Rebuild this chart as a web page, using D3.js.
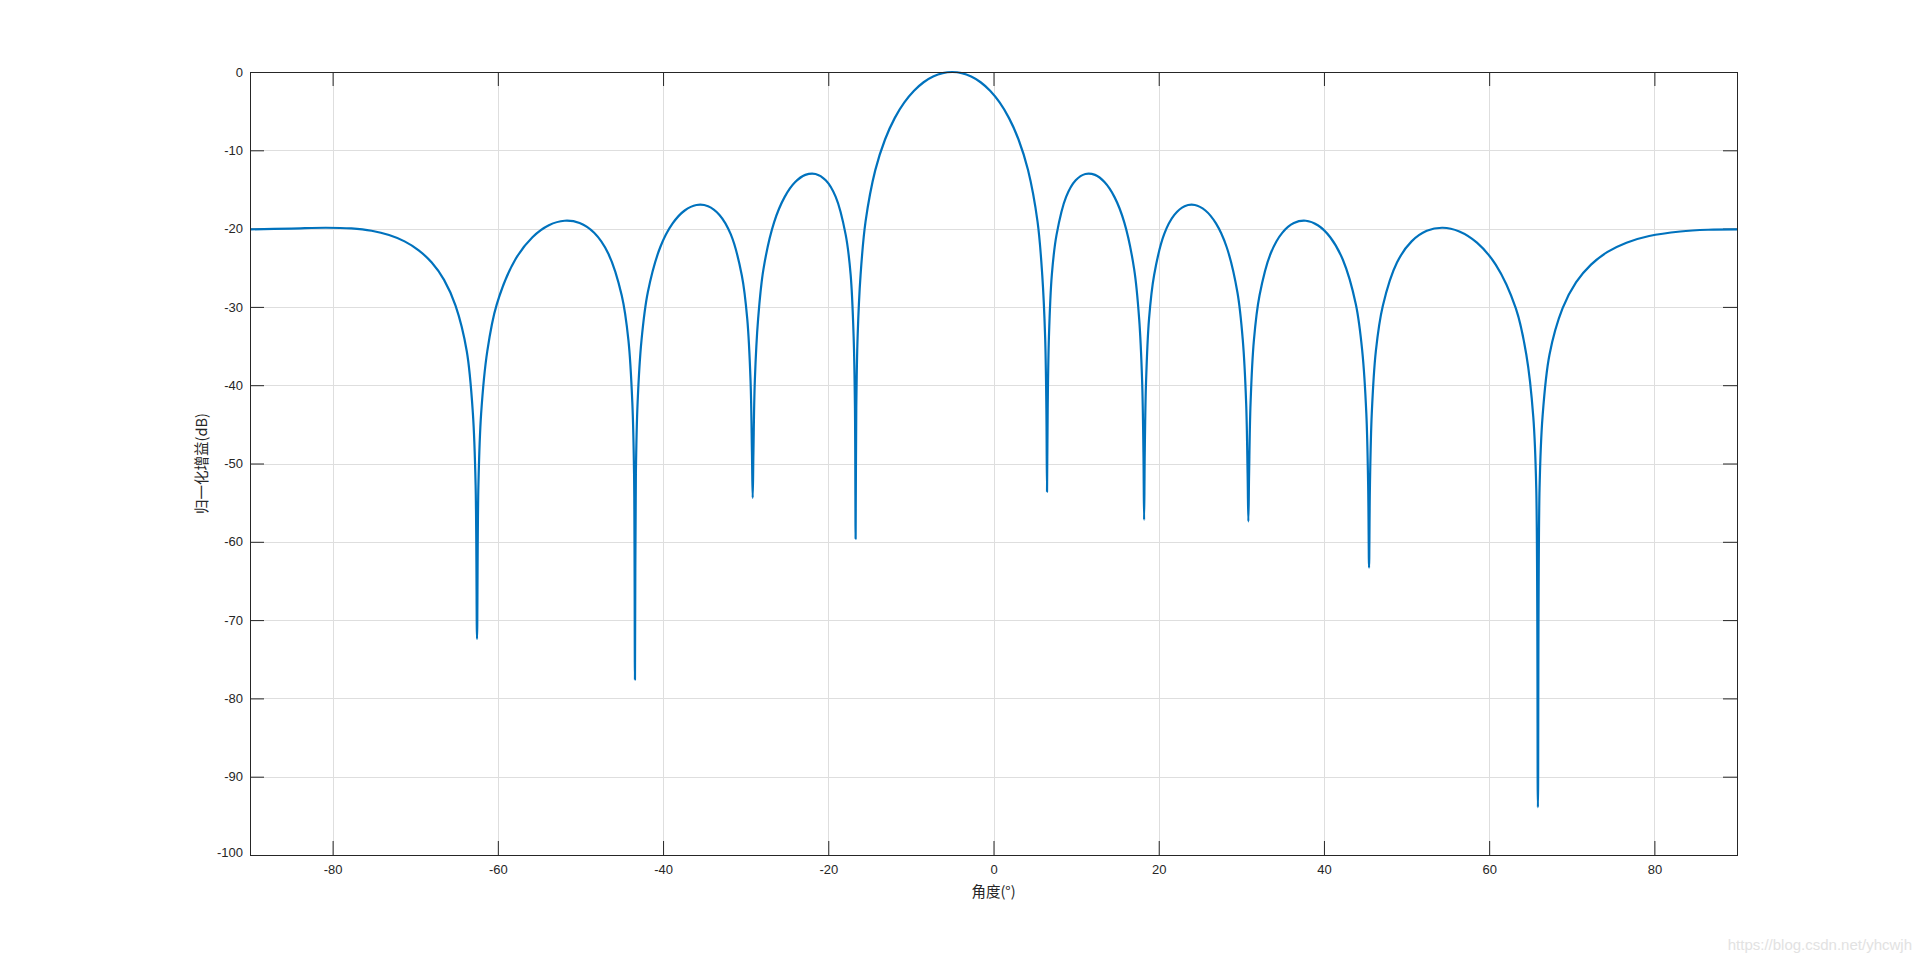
<!DOCTYPE html>
<html>
<head>
<meta charset="utf-8">
<script src="https://cdn.jsdelivr.net/npm/d3@7"></script>
<style>
  html, body { margin: 0; padding: 0; background: #fff; }
  svg { display: block; }
</style>
</head>
<body>
<svg id="chart" width="1920" height="962"></svg>
<script>
// ---- data ----
const angles = [
  -90.00, -85.00, -80.81, -77.73, -75.28, -73.17, -71.29, -69.58, -68.00, -66.51, -65.12,
  -63.76, -63.02, -62.69, -62.52, -62.35, -62.02, -61.28,
  -60.13, -57.90, -55.81, -53.82, -51.92, -50.10, -48.34, -46.65, -45.00,
  -44.19, -43.72, -43.51, -43.40, -43.29, -43.08, -42.61,
  -41.85, -40.33, -38.84, -37.38, -35.96, -34.55, -33.17, -31.81, -30.47,
  -29.81, -29.41, -29.24, -29.15, -29.06, -28.89, -28.49,
  -27.85, -26.56, -25.29, -24.03, -22.78, -21.54, -20.31, -19.10, -17.89,
  -17.29, -16.93, -16.77, -16.69, -16.61, -16.45, -16.09,
  -15.49, -14.31, -13.13, -11.96, -10.79, -9.62, -8.46, -7.31, -6.15, -5.00,
  -3.85, -2.70, -1.56, -0.41, 0.74, 1.88, 3.03, 4.18, 5.33,
  5.90, 6.25, 6.40, 6.48, 6.56, 6.71, 7.06,
  7.63, 8.79, 9.95, 11.12, 12.29, 13.46, 14.65, 15.83, 17.03,
  17.63, 17.99, 18.15, 18.23, 18.31, 18.47, 18.83,
  19.44, 20.66, 21.89, 23.13, 24.38, 25.65, 26.93, 28.22, 29.53,
  30.18, 30.58, 30.76, 30.85, 30.94, 31.12, 31.52,
  32.20, 33.56, 34.95, 36.36, 37.80, 39.26, 40.76, 42.29, 43.86,
  44.64, 45.13, 45.35, 45.46, 45.57, 45.79, 46.28,
  47.13, 48.84, 50.61, 52.45, 54.37, 56.39, 58.52, 60.79, 63.23,
  64.50, 65.34, 65.70, 65.90, 66.10, 66.46, 67.30,
  68.88, 70.53, 72.33, 74.33, 76.62, 79.37, 83.14, 86.50, 90.00
];
const gainDb = [
  -20.10, -20.00, -19.89, -19.98, -20.28, -20.82, -21.63, -22.77, -24.34, -26.55, -29.85,
  -35.67, -43.60, -52.72, -72.40, -52.72, -43.60, -35.67,
  -29.67, -23.98, -21.10, -19.57, -19.00, -19.29, -20.54, -23.15, -28.55,
  -34.27, -42.20, -51.32, -77.60, -51.32, -42.20, -34.27,
  -28.16, -22.35, -19.34, -17.69, -16.99, -17.14, -18.25, -20.71, -25.95,
  -31.50, -39.43, -48.55, -54.40, -48.55, -39.43, -31.50,
  -25.20, -19.20, -15.98, -14.09, -13.14, -13.02, -13.82, -15.94, -20.80,
  -25.91, -33.84, -42.96, -59.60, -42.96, -33.84, -25.91,
  -19.12, -12.53, -8.62, -5.89, -3.89, -2.40, -1.31, -0.58, -0.14, 0.00,
  -0.14, -0.58, -1.31, -2.40, -3.89, -5.89, -8.62, -12.53, -19.12,
  -25.91, -33.84, -42.96, -53.60, -42.96, -33.84, -25.91,
  -20.80, -15.94, -13.82, -13.02, -13.14, -14.09, -15.98, -19.20, -25.20,
  -31.50, -39.43, -48.55, -57.20, -48.55, -39.43, -31.50,
  -25.95, -20.71, -18.25, -17.14, -16.99, -17.69, -19.34, -22.35, -28.16,
  -34.27, -42.20, -51.32, -57.40, -51.32, -42.20, -34.27,
  -28.55, -23.15, -20.54, -19.29, -19.00, -19.57, -21.10, -23.98, -29.67,
  -35.67, -43.60, -52.72, -63.30, -52.72, -43.60, -35.67,
  -29.85, -24.34, -21.63, -20.28, -19.89, -20.37, -21.80, -24.60, -30.20,
  -36.11, -44.04, -53.16, -93.90, -53.16, -44.04, -36.11,
  -30.20, -26.85, -24.60, -22.98, -21.80, -20.95, -20.37, -20.15, -20.10
];
const xTicks = [-80, -60, -40, -20, 0, 20, 40, 60, 80];
const yTicks = [0, -10, -20, -30, -40, -50, -60, -70, -80, -90, -100];
const xDomain = [-90, 90];
const yDomain = [-100, 0];
const xLabel = "角度(°)";
const yLabel = "归一化增益(dB)";
const watermark = "https://blog.csdn.net/yhcwjh";

// ---- layout ----
const svg = d3.select("#chart");
const L = 250, T = 72, W = 1487, H = 783;
const tickLen = 14;
const axisColor = "#262626";

const x = d3.scaleLinear().domain(xDomain).range([L, L + W]);
const y = d3.scaleLinear().domain(yDomain).range([T + H, T]);
const fmt = d => String(d);

// grid
const grid = svg.append("g");
grid.selectAll("line.gx").data(xTicks).join("line")
  .attr("x1", d => Math.round(x(d)) + 0.5).attr("x2", d => Math.round(x(d)) + 0.5)
  .attr("y1", T).attr("y2", T + H)
  .attr("stroke", "#dedede").attr("stroke-width", 1);
grid.selectAll("line.gy").data(yTicks).join("line")
  .attr("y1", d => Math.round(y(d)) + 0.5).attr("y2", d => Math.round(y(d)) + 0.5)
  .attr("x1", L).attr("x2", L + W)
  .attr("stroke", "#dedede").attr("stroke-width", 1);

// axes (bottom/left with labels, top/right mirrored ticks)
const fontTick = "'Liberation Sans', Arial, Helvetica, sans-serif";
const gB = svg.append("g").attr("transform", `translate(0,${T + H})`)
  .call(d3.axisBottom(x).tickValues(xTicks).tickSizeInner(-tickLen).tickSizeOuter(0).tickPadding(10).tickFormat(fmt));
const gT = svg.append("g").attr("transform", `translate(0,${T})`)
  .call(d3.axisTop(x).tickValues(xTicks).tickSizeInner(-tickLen).tickSizeOuter(0).tickFormat(""));
const gL = svg.append("g").attr("transform", `translate(${L},0)`)
  .call(d3.axisLeft(y).tickValues(yTicks).tickSizeInner(-tickLen).tickSizeOuter(0).tickPadding(7).tickFormat(fmt));
const gR = svg.append("g").attr("transform", `translate(${L + W},0)`)
  .call(d3.axisRight(y).tickValues(yTicks).tickSizeInner(-tickLen).tickSizeOuter(0).tickFormat(""));
[gB, gT, gL, gR].forEach(g => {
  g.select(".domain").remove();
  g.selectAll("line").attr("stroke", axisColor).attr("stroke-width", 1);
  g.selectAll("text").attr("fill", axisColor).attr("font-family", fontTick).attr("font-size", 13);
});
gL.selectAll(".tick").filter(d => d === -100).select("text").attr("dy", "0.1em");

// data line
const pts = angles.map((a, i) => [a, gainDb[i]]);
svg.append("path")
  .datum(pts)
  .attr("fill", "none")
  .attr("stroke", "#0072BD")
  .attr("stroke-width", 2.2)
  .attr("stroke-linejoin", "round")
  .attr("d", d3.line().x(d => x(d[0])).y(d => y(d[1])).curve(d3.curveCatmullRom.alpha(0.5)));

// box
svg.append("rect")
  .attr("x", L + 0.5).attr("y", T + 0.5).attr("width", W).attr("height", H)
  .attr("fill", "none").attr("stroke", axisColor).attr("stroke-width", 1);

// axis labels
const fontCJK = "'Noto Sans CJK SC', 'Noto Sans', sans-serif";
svg.append("text")
  .attr("x", L + W / 2).attr("y", 897)
  .attr("text-anchor", "middle")
  .attr("font-family", fontCJK).attr("font-size", 14.5)
  .attr("fill", axisColor)
  .text(xLabel);
svg.append("text")
  .attr("transform", `translate(207,${T + H / 2}) rotate(-90)`)
  .attr("text-anchor", "middle")
  .attr("font-family", fontCJK).attr("font-size", 14.5)
  .attr("fill", axisColor)
  .text(yLabel);

// watermark
svg.append("text")
  .attr("x", 1912).attr("y", 950)
  .attr("text-anchor", "end")
  .attr("font-family", fontTick).attr("font-size", 15)
  .attr("fill", "#e2e2e2")
  .text(watermark);
</script>
</body>
</html>
